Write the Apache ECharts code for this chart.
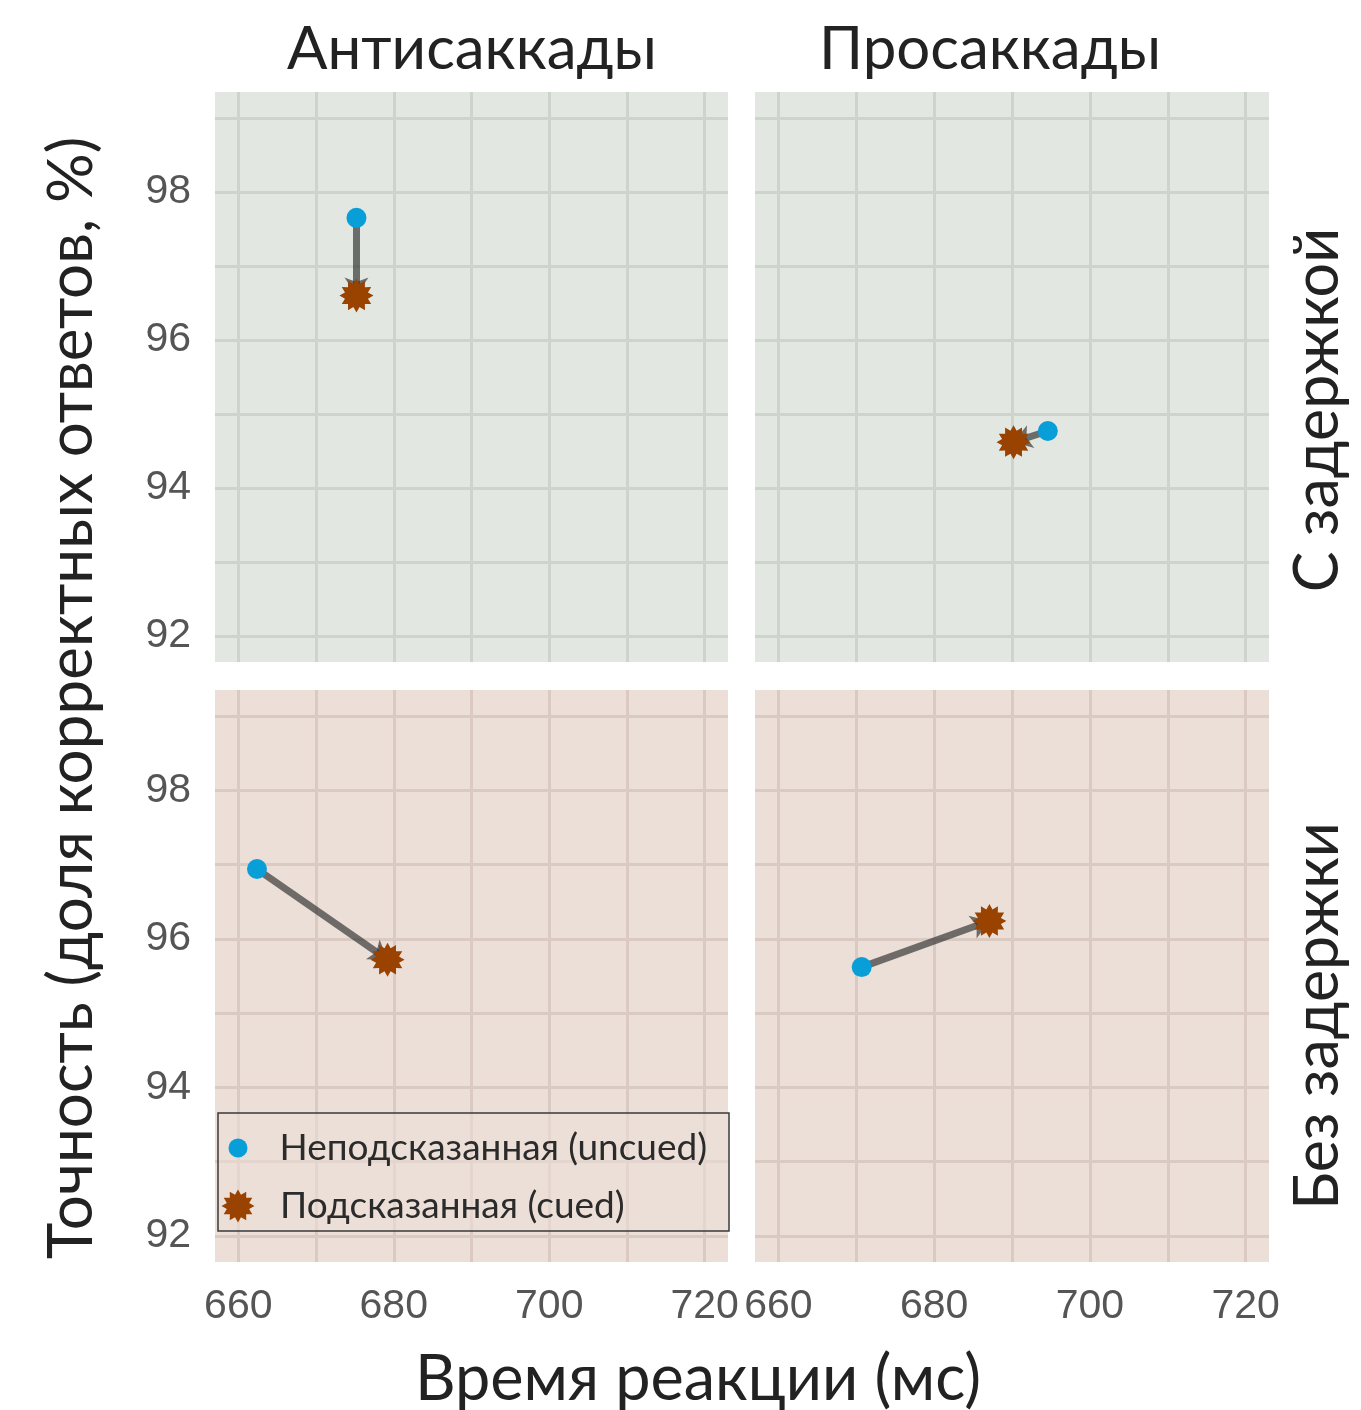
<!DOCTYPE html>
<html><head><meta charset="utf-8">
<script src="https://cdn.jsdelivr.net/npm/echarts@6/dist/echarts.min.js"></script>
<style>html,body{margin:0;padding:0;background:#fff}#c{width:1361px;height:1410px}</style>
</head><body><div id="c"></div>
<script>
// ---- data ----
const colTitles = ['Антисаккады', 'Просаккады'];
const rowTitles = ['С задержкой', 'Без задержки'];
// panel order: [Анти/С задержкой, Про/С задержкой, Анти/Без задержки, Про/Без задержки]
const uncuedRT  = [675.2, 694.6, 662.4, 670.7];
const uncuedAcc = [97.65, 94.77, 96.94, 95.62];
const cuedRT    = [675.2, 690.2, 679.2, 687.1];
const cuedAcc   = [96.60, 94.62, 95.72, 96.24];
const seriesNames = ['Неподсказанная (uncued)', 'Подсказанная (cued)'];
const xGrid = [660, 670, 680, 690, 700, 710, 720];
const xTickLabels = [660, 680, 700, 720];
const yGrid = [92, 93, 94, 95, 96, 97, 98, 99];
const yTickLabels = [92, 94, 96, 98];
const xTitle = 'Время реакции (мс)';
const yTitle = 'Точность (доля корректных ответов, %)';

// ---- styles ----
const FONT = 'Lato, "Noto Sans", sans-serif';
function starPath(n, rIn) {
  let d = '';
  for (let i = 0; i < 2 * n; i++) {
    const r = i % 2 ? rIn : 1;
    const a = Math.PI * i / n - Math.PI / 2;
    d += (i ? 'L' : 'M') + (r * Math.cos(a)).toFixed(4) + ' ' + (r * Math.sin(a)).toFixed(4) + ' ';
  }
  return 'path://' + d + 'Z';
}
const STAR = starPath(12, 0.7);
const BLUE = '#089fd8';
const BROWN = '#9a4200';

const gridsPos = [
  {left: 215, top: 92, width: 513, height: 570},
  {left: 755, top: 92, width: 514, height: 570},
  {left: 215, top: 690, width: 513, height: 572},
  {left: 755, top: 690, width: 514, height: 572}
];
const bg = ['#e2e8e1', '#e2e8e1', '#ecdfd8', '#ecdfd8'];
const gl = ['#cdd4cc', '#cdd4cc', '#dacac1', '#dacac1'];
const tickFont = '"Liberation Sans", Arial, sans-serif';

const grid = [], xAxis = [], yAxis = [], series = [];
for (let i = 0; i < 4; i++) {
  grid.push(Object.assign({show: true, backgroundColor: bg[i], borderWidth: 0, containLabel: false, outerBoundsMode: 'none'}, gridsPos[i]));
  xAxis.push({
    type: 'value', gridIndex: i, min: 657, max: 723,
    axisLine: {show: false},
    axisTick: {show: false, customValues: xGrid},
    splitLine: {show: true, lineStyle: {color: gl[i], width: 3}},
    axisLabel: {show: i >= 2, customValues: xTickLabels, margin: 24, fontSize: 41, color: '#555', fontFamily: tickFont}
  });
  yAxis.push({
    type: 'value', gridIndex: i, min: 91.65, max: 99.35,
    axisLine: {show: false},
    axisTick: {show: false, customValues: yGrid},
    splitLine: {show: true, lineStyle: {color: gl[i], width: 3}},
    axisLabel: {show: i % 2 === 0, customValues: yTickLabels, margin: 24, fontSize: 41, color: '#555', fontFamily: tickFont}
  });
  series.push({
    type: 'lines', coordinateSystem: 'cartesian2d', xAxisIndex: i, yAxisIndex: i, z: 2,
    data: [{coords: [[uncuedRT[i], uncuedAcc[i]], [cuedRT[i], cuedAcc[i]]]}],
    lineStyle: {color: 'rgba(50,50,50,0.68)', width: 7, opacity: 1},
    symbol: ['none', 'arrow'], symbolSize: 18, silent: true
  });
  series.push({
    name: seriesNames[0], type: 'scatter', xAxisIndex: i, yAxisIndex: i, z: 3,
    data: [[uncuedRT[i], uncuedAcc[i]]],
    symbol: 'circle', symbolSize: 20, itemStyle: {color: BLUE, opacity: 1}
  });
  series.push({
    name: seriesNames[1], type: 'scatter', xAxisIndex: i, yAxisIndex: i, z: 4,
    data: [[cuedRT[i], cuedAcc[i]]],
    symbol: STAR, symbolSize: 34, itemStyle: {color: BROWN, opacity: 1}
  });
}

const bigFont = (s) => 'normal 400 ' + s + 'px ' + FONT;
const option = {
  animation: false,
  backgroundColor: '#ffffff',
  grid, xAxis, yAxis, series,
  legend: [
    {data: [{name: seriesNames[0], icon: 'circle'}], left: 228.5, top: 1128, padding: 0,
     itemWidth: 19, itemHeight: 19, selectedMode: false,
     textStyle: {fontSize: 37, color: '#2b2b2b', fontFamily: FONT, lineHeight: 40, padding: [0, 0, 0, 27]}},
    {data: [{name: seriesNames[1], icon: STAR}], left: 221.5, top: 1186, padding: 0,
     itemWidth: 33, itemHeight: 33, selectedMode: false,
     textStyle: {fontSize: 37, color: '#2b2b2b', fontFamily: FONT, lineHeight: 40, padding: [0, 0, 0, 20.5]}}
  ],
  graphic: [
    {type: 'rect', z: 3, shape: {x: 218, y: 1113, width: 511, height: 118},
     style: {fill: 'rgba(236,223,216,0.55)', stroke: '#3a3a3a', lineWidth: 1.5}},
    {type: 'text', x: 472, y: 50, style: {text: colTitles[0], font: bigFont(60), fill: '#222', textAlign: 'center', textVerticalAlign: 'middle'}},
    {type: 'text', x: 990, y: 50, style: {text: colTitles[1], font: bigFont(60), fill: '#222', textAlign: 'center', textVerticalAlign: 'middle'}},
    {type: 'text', x: 1318, y: 410, rotation: Math.PI / 2, style: {text: rowTitles[0], font: bigFont(61), fill: '#222', textAlign: 'center', textVerticalAlign: 'middle'}},
    {type: 'text', x: 1318, y: 1016, rotation: Math.PI / 2, style: {text: rowTitles[1], font: bigFont(61), fill: '#222', textAlign: 'center', textVerticalAlign: 'middle'}},
    {type: 'text', x: 72, y: 698, rotation: Math.PI / 2, style: {text: yTitle, font: bigFont(62), fill: '#222', textAlign: 'center', textVerticalAlign: 'middle'}},
    {type: 'text', x: 698, y: 1380, style: {text: xTitle, font: bigFont(63), fill: '#222', textAlign: 'center', textVerticalAlign: 'middle'}}
  ]
};
const chart = echarts.init(document.getElementById('c'), null, {renderer: 'canvas'});
chart.setOption(option);
</script>
</body></html>
